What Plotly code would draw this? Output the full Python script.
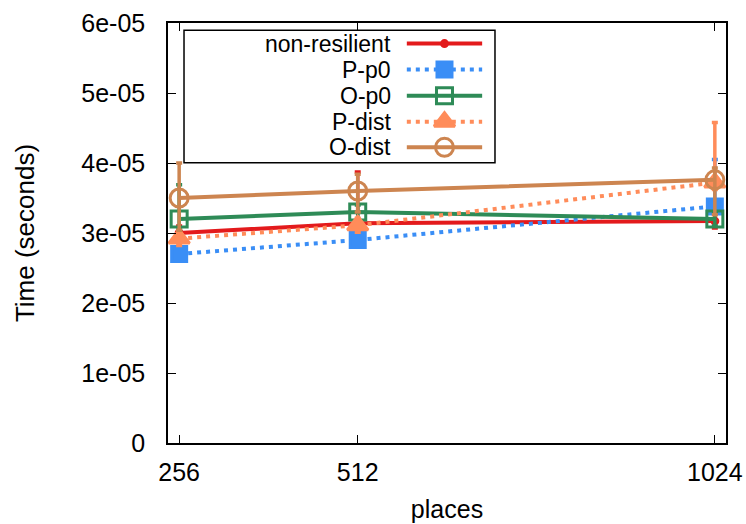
import plotly.graph_objects as go

places = [256, 512, 1024]
x_ticks = [256, 512, 1024]
y_ticks = [0, 1e-5, 2e-5, 3e-5, 4e-5, 5e-5, 6e-5]
y_tick_text = ["0", "1e-05", "2e-05", "3e-05", "4e-05", "5e-05", "6e-05"]

names = ["non-resilient", "P-p0", "O-p0", "P-dist", "O-dist"]
non_resilient = [3.0e-5, 3.14e-5, 3.17e-5]
p_p0 = [2.7e-5, 2.9e-5, 3.38e-5]
o_p0 = [3.2e-5, 3.3e-5, 3.2e-5]
p_dist = [2.92e-5, 3.11e-5, 3.72e-5]
o_dist = [3.5e-5, 3.6e-5, 3.76e-5]

# error bar extents (plus / minus)
nr_up = [0.1e-5, 0.73e-5, 0.1e-5]
nr_dn = [0.1e-5, 0.1e-5, 0.1e-5]
pp0_up = [0.1e-5, 0.1e-5, 0.67e-5]
pp0_dn = [0.1e-5, 0.1e-5, 0.1e-5]
op0_up = [0.49e-5, 0.1e-5, 0.1e-5]
op0_dn = [0.15e-5, 0.15e-5, 0.1e-5]
pd_up = [0.1e-5, 0.1e-5, 0.86e-5]
pd_dn = [0.1e-5, 0.1e-5, 0.1e-5]
od_up = [0.5e-5, 0.24e-5, 0.17e-5]
od_dn = [0.46e-5, 0.3e-5, 0.5e-5]

series = [
    dict(name=names[0], y=non_resilient, up=nr_up, dn=nr_dn, color="#e31a1c",
         dash="solid", symbol="circle", size=6),
    dict(name=names[1], y=p_p0, up=pp0_up, dn=pp0_dn, color="#3a8ef6",
         dash="4px,5px", symbol="square", size=15),
    dict(name=names[2], y=o_p0, up=op0_up, dn=op0_dn, color="#2e8b57",
         dash="solid", symbol="square-open", size=16),
    dict(name=names[3], y=p_dist, up=pd_up, dn=pd_dn, color="#ff8c5a",
         dash="4px,5px", symbol="triangle-up", size=18),
    dict(name=names[4], y=o_dist, up=od_up, dn=od_dn, color="#cd8550",
         dash="solid", symbol="circle-open", size=18),
]

FONT = "Liberation Sans, Arial, sans-serif"
fig = go.Figure()

for s in series:
    fig.add_trace(go.Scatter(
        x=places, y=s["y"], name=s["name"], mode="lines+markers",
        line=dict(color=s["color"], width=4, dash=s["dash"]),
        marker=dict(color=s["color"], symbol=s["symbol"], size=s["size"],
                    line=dict(color=s["color"], width=3)),
        error_y=dict(type="data", symmetric=False, array=s["up"], arrayminus=s["dn"],
                     color=s["color"], thickness=3.5, width=3),
        showlegend=False,
    ))

# gnuplot-style key (text right-aligned, sample on the right)
row_y = [0.951, 0.889, 0.827, 0.765, 0.704]
for s, ry in zip(series, row_y):
    fig.add_trace(go.Scatter(
        x=[0.428, 0.563], y=[ry, ry], xaxis="x2", yaxis="y2", mode="lines",
        line=dict(color=s["color"], width=4, dash=s["dash"]), showlegend=False,
        hoverinfo="skip"))
    fig.add_trace(go.Scatter(
        x=[0.4955], y=[ry], xaxis="x2", yaxis="y2", mode="markers",
        marker=dict(color=s["color"], symbol=s["symbol"], size=s["size"],
                    line=dict(color=s["color"], width=3)),
        showlegend=False, hoverinfo="skip"))
    fig.add_annotation(x=0.401, y=ry, xref="x2", yref="y2", text=s["name"],
                       showarrow=False, xanchor="right", yanchor="middle",
                       borderpad=0,
                       font=dict(family=FONT, size=23, color="black"))

fig.add_shape(type="rect", xref="paper", yref="paper", x0=0.0287, x1=0.586,
              y0=0.667, y1=0.983, line=dict(color="black", width=1.5),
              fillcolor="white", layer="below")

fig.update_layout(
    width=746, height=524,
    margin=dict(l=168, r=20, t=23, b=81),
    paper_bgcolor="white", plot_bgcolor="white",
    font=dict(family=FONT, size=24, color="black"),
    xaxis=dict(range=[240, 1040], tickvals=x_ticks, ticktext=[str(v) for v in x_ticks],
               ticks="inside", ticklen=8, tickwidth=1, tickcolor="black",
               showline=True, linecolor="black", linewidth=1.5, mirror="ticks",
               showgrid=False, zeroline=False, ticklabelstandoff=6, automargin=False,
               tickfont=dict(size=25),
               title=dict(text="places", standoff=16, font=dict(size=25))),
    yaxis=dict(range=[0, 6e-5], tickvals=y_ticks, ticktext=y_tick_text,
               ticks="inside", ticklen=8, tickwidth=1, tickcolor="black",
               showline=True, linecolor="black", linewidth=1.5, mirror="ticks",
               showgrid=False, zeroline=False, ticklabelstandoff=16, automargin=False,
               tickfont=dict(size=25),
               title=dict(text="Time (seconds)", standoff=39, font=dict(size=26))),
    xaxis2=dict(range=[0, 1], overlaying="x", visible=False, fixedrange=True),
    yaxis2=dict(range=[0, 1], overlaying="y", visible=False, fixedrange=True),
)

fig.write_html("out.html")
